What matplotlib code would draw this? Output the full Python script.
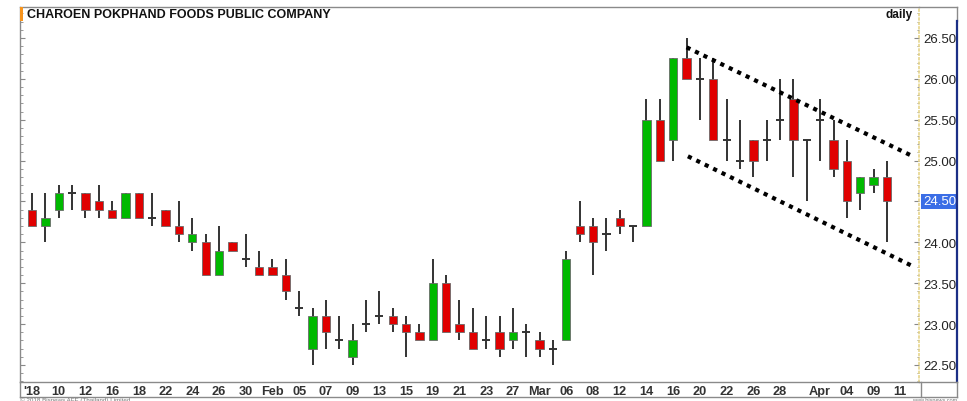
import matplotlib
matplotlib.use("Agg")
import matplotlib.pyplot as plt
from matplotlib.lines import Line2D
from matplotlib.patches import Rectangle
from matplotlib.ticker import MultipleLocator, FixedLocator, FuncFormatter
import matplotlib.transforms as mtransforms

plt.rcParams['font.family'] = ['Liberation Sans', 'DejaVu Sans']

# ---------------- data ----------------
opens = [24.4, 24.2, 24.4, 24.6, 24.6, 24.5, 24.4, 24.3, 24.6, 24.3,
         24.4, 24.2, 24.0, 24.0, 23.6, 24.0, 23.8, 23.7, 23.7, 23.6,
         23.2, 22.7, 23.1, 22.8, 22.6, 23.0, 23.1, 23.1, 23.0, 22.9,
         22.8, 23.5, 23.0, 22.9, 22.8, 22.9, 22.8, 22.9, 22.8, 22.7,
         22.8, 24.2, 24.2, 24.1, 24.3, 24.2, 24.2, 25.5, 25.25, 26.25,
         26.0, 26.0, 25.25, 25.0, 25.25, 25.25, 25.5, 25.75, 25.25, 25.5,
         25.25, 25.0, 24.6, 24.7, 24.8]
highs = [24.6, 24.6, 24.7, 24.7, 24.6, 24.7, 24.5, 24.6, 24.6, 24.6,
         24.4, 24.5, 24.3, 24.1, 24.2, 24.0, 24.1, 23.9, 23.8, 23.8,
         23.4, 23.2, 23.3, 23.1, 23.0, 23.3, 23.4, 23.2, 23.1, 23.0,
         23.8, 23.6, 23.3, 23.2, 23.1, 23.1, 23.2, 23.0, 22.9, 22.8,
         23.9, 24.5, 24.3, 24.3, 24.4, 24.2, 25.75, 25.75, 26.25, 26.5,
         26.25, 26.25, 25.75, 25.5, 25.25, 25.5, 26.0, 26.0, 25.25, 25.75,
         25.5, 25.25, 24.8, 24.9, 25.0]
lows = [24.2, 24.0, 24.3, 24.4, 24.3, 24.3, 24.3, 24.3, 24.3, 24.2,
        24.2, 24.0, 23.9, 23.6, 23.6, 23.9, 23.7, 23.6, 23.6, 23.3,
        23.1, 22.5, 22.7, 22.7, 22.5, 22.9, 23.0, 22.9, 22.6, 22.8,
        22.8, 22.9, 22.8, 22.7, 22.7, 22.6, 22.7, 22.6, 22.6, 22.5,
        22.8, 24.0, 23.6, 23.9, 24.1, 24.0, 24.2, 25.0, 25.0, 26.0,
        25.5, 25.25, 25.0, 24.9, 24.8, 25.0, 25.25, 24.8, 24.5, 25.0,
        24.8, 24.3, 24.4, 24.6, 24.0]
closes = [24.2, 24.3, 24.6, 24.6, 24.4, 24.4, 24.3, 24.6, 24.3, 24.3,
          24.2, 24.1, 24.1, 23.6, 23.9, 23.9, 23.8, 23.6, 23.6, 23.4,
          23.2, 23.1, 22.9, 22.8, 22.8, 23.0, 23.1, 23.0, 22.9, 22.8,
          23.5, 22.9, 22.9, 22.7, 22.8, 22.7, 22.9, 22.9, 22.7, 22.7,
          23.8, 24.1, 24.0, 24.1, 24.2, 24.2, 25.5, 25.0, 26.25, 26.0,
          26.0, 25.25, 25.25, 25.0, 25.0, 25.25, 25.5, 25.25, 25.25, 25.5,
          24.9, 24.5, 24.8, 24.8, 24.5]

date_labels = ["'18", "10", "12", "16", "18", "22", "24", "26", "30", "Feb",
               "05", "07", "09", "13", "15", "19", "21", "23", "27", "Mar",
               "06", "08", "12", "14", "16", "20", "22", "26", "28", "Apr",
               "04", "09", "11"]
date_label_idx = [0, 2, 4, 6, 8, 10, 12, 14, 16, 18,
                  20, 22, 24, 26, 28, 30, 32, 34, 36, 38,
                  40, 42, 44, 46, 48, 50, 52, 54, 56, 59,
                  61, 63, 65]

price_ticks = [22.5, 23.0, 23.5, 24.0, 24.5, 25.0, 25.5, 26.0, 26.5]

# hand-drawn channel lines (x in trading-day index, y in price)
channel_upper = ([49.0, 65.85], [26.386, 25.06])
channel_lower = ([49.1, 65.85], [25.053, 23.715])

title = "CHAROEN POKPHAND FOODS PUBLIC COMPANY"

# ---------------- figure ----------------
W, H = 967, 402
fig = plt.figure(figsize=(W / 100, H / 100), dpi=100)
fig.patch.set_facecolor('white')

def fx(px):
    return px / W

def fy(py):
    return 1 - py / H

ax_l, ax_r, ax_t, ax_b = 20, 919, 8, 383
ax = fig.add_axes([fx(ax_l), fy(ax_b), fx(ax_r - ax_l), (ax_b - ax_t) / H])

RED = '#e00000'
GREEN = '#00b900'
WICK = '#333333'
bw = 0.62

for i, (o, h, l, c) in enumerate(zip(opens, highs, lows, closes)):
    ax.vlines(i, l, h, color=WICK, lw=1.4, zorder=2)
    if abs(c - o) < 1e-9:
        ax.hlines(o, i - bw / 2, i + bw / 2, color=WICK, lw=1.4, zorder=3)
    else:
        col = GREEN if c > o else RED
        ax.bar(i, abs(c - o), bottom=min(o, c), width=bw, color=col,
               edgecolor='#6a6a6a', linewidth=0.6, zorder=3)

for xs, ys in (channel_upper, channel_lower):
    ax.plot(xs, ys, color='black', lw=3.0, linestyle=(0, (1, 1.25)),
            dash_capstyle='butt', zorder=4)

ax.set_xlim(-0.9, 66.4)
ax.set_ylim(22.292, 26.879)

# x ticks (dates)
ax.set_xticks(date_label_idx)
ax.set_xticklabels(date_labels)
ax.tick_params(axis='x', length=0, pad=2.2, labelsize=9.2, labelcolor='#333333')
for t in ax.get_xticklabels():
    t.set_fontweight('bold')

# y ticks (right)
ax.yaxis.set_major_locator(FixedLocator(price_ticks))
last = closes[-1]
ax.yaxis.set_major_formatter(FuncFormatter(
    lambda v, p: '' if abs(v - last) < 1e-9 else f'{v:.2f}'))
ax.yaxis.set_minor_locator(MultipleLocator(0.1))
ax.tick_params(axis='y', which='both', left=True, right=True,
               labelleft=False, labelright=True, direction='in', colors='#888888')
ax.tick_params(axis='y', which='major', length=3.5, width=0.8, pad=3,
               labelsize=9.5, labelcolor='#222222')
ax.tick_params(axis='y', which='minor', length=1.8, width=0.6)

# highlighted last price label
trans = mtransforms.blended_transform_factory(ax.transAxes, ax.transData)
ax.text(1.0 + 4 / (ax_r - ax_l), last, f'{last:.2f}', transform=trans,
        ha='left', va='center', fontsize=9.5, color='white',
        bbox=dict(boxstyle='square,pad=0.12', fc='#3b6ee6', ec='none'),
        zorder=6, clip_on=False)

for s in ('left', 'top', 'bottom'):
    ax.spines[s].set_color('#8a8a8a')
    ax.spines[s].set_linewidth(1.0)
ax.spines['right'].set_color('#e6d58c')
ax.spines['right'].set_linewidth(1.2)
ax.spines['right'].set_linestyle(':')

# frame pieces around price panel and date strip
gray = '#8a8a8a'
fig.add_artist(Line2D([fx(ax_r), fx(957)], [fy(8), fy(8)], color=gray, lw=1.0))
fig.add_artist(Line2D([fx(957), fx(957)], [fy(8), fy(22)], color=gray, lw=1.0))
fig.add_artist(Line2D([fx(957), fx(957)], [fy(22), fy(383)], color='#1b2f86', lw=1.6))
fig.add_artist(Line2D([fx(ax_r), fx(957)], [fy(383), fy(383)], color=gray, lw=1.0))
fig.add_artist(Line2D([fx(20), fx(957)], [fy(398), fy(398)], color=gray, lw=1.0))
fig.add_artist(Line2D([fx(20), fx(20)], [fy(383), fy(398)], color=gray, lw=1.0))
fig.add_artist(Line2D([fx(921), fx(921)], [fy(383), fy(398)], color=gray, lw=1.0))
fig.add_artist(Line2D([fx(957), fx(957)], [fy(383), fy(398)], color=gray, lw=1.0))

# orange marker and title
fig.add_artist(Rectangle((fx(20), fy(22)), fx(3), 14 / H, color='#f7941d', lw=0))
fig.text(fx(27), fy(15), title, fontsize=9, fontweight='bold', color='#111111',
         ha='left', va='center')
fig.text(fx(913), fy(15), 'daily', fontsize=8.5, fontweight='bold', color='#111111',
         ha='right', va='center')

fig.text(fx(20), fy(400), '© 2018 Bisnews AFE (Thailand) Limited', fontsize=4.5,
         color='#777777', ha='left', va='center')
fig.text(fx(957), fy(400.5), 'www.bisnews.com', fontsize=4, color='#777777',
         ha='right', va='center')

fig.savefig('out.png', dpi=100, facecolor='white')
